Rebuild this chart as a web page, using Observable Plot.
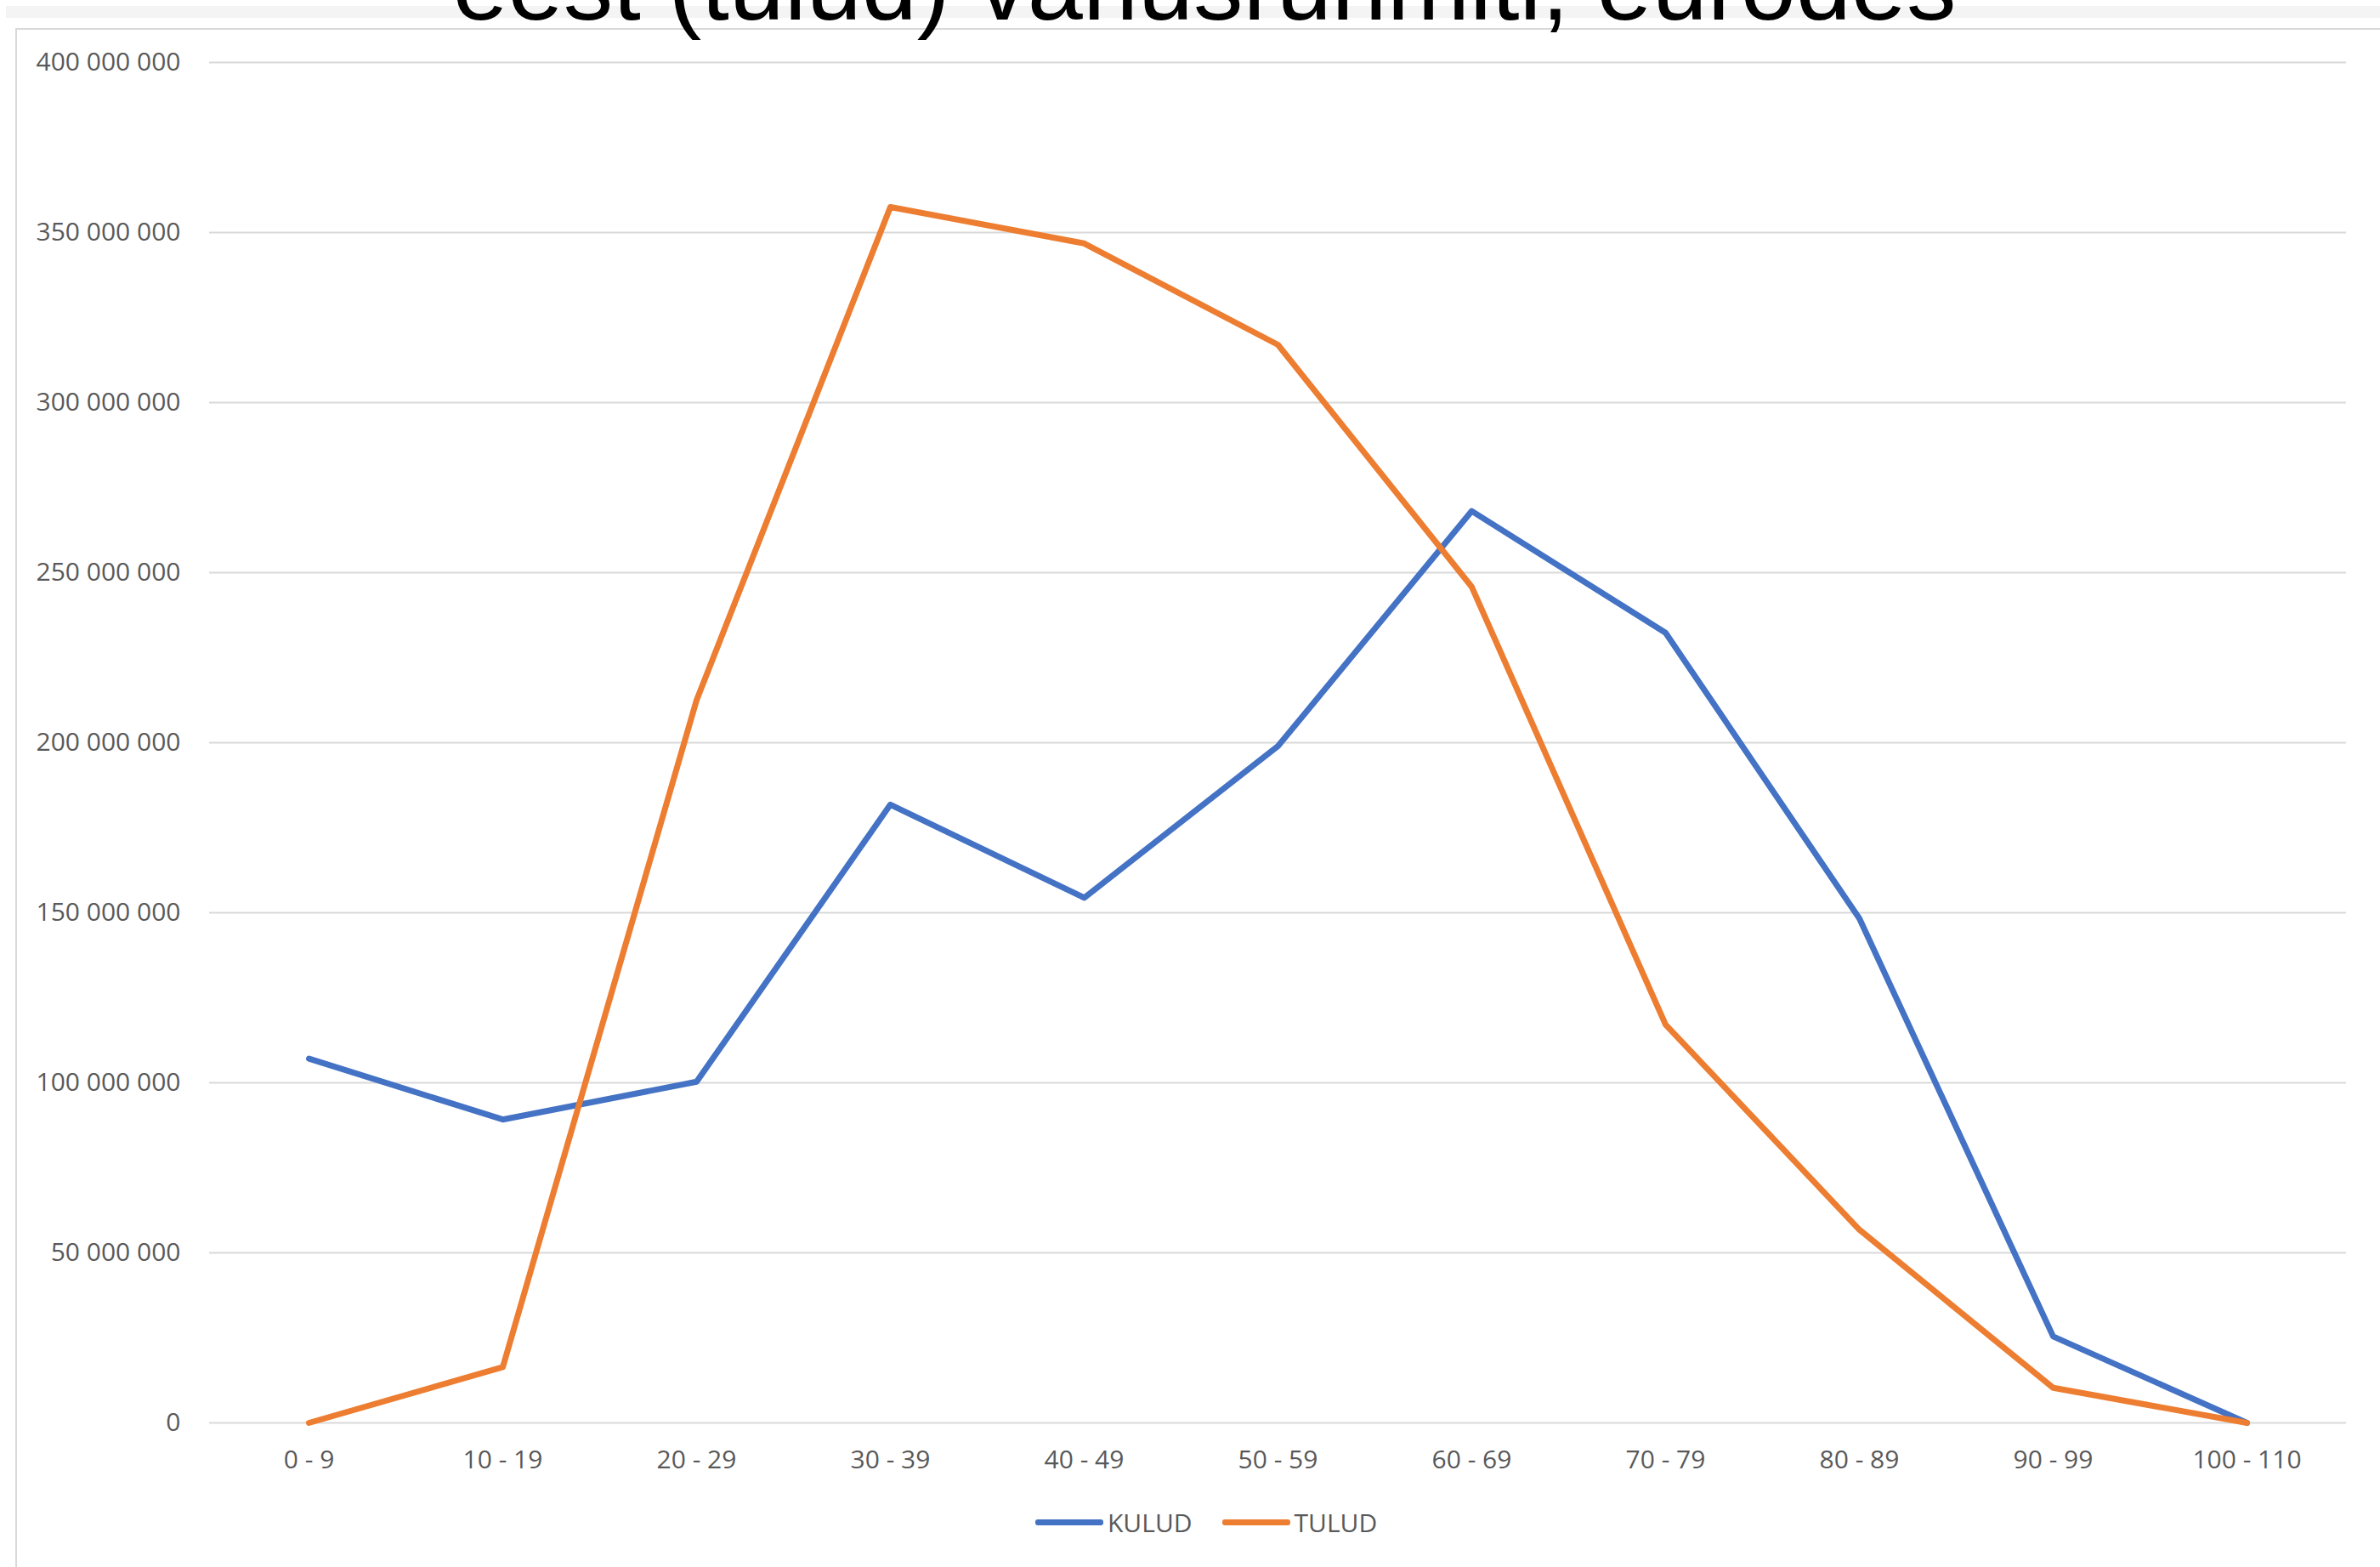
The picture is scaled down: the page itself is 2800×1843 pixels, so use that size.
<!DOCTYPE html>
<html>
<head>
<meta charset="utf-8">
<script src="https://cdn.jsdelivr.net/npm/d3@7"></script>
<script src="https://cdn.jsdelivr.net/npm/@observablehq/plot@0.6"></script>
<style>
  html, body { margin: 0; padding: 0; background: #ffffff; }
  body { width: 2800px; height: 1843px; position: relative; overflow: hidden; font-family: "Open Sans", sans-serif; }
  #band { position: absolute; left: 7px; top: 7px; width: 2793px; height: 14px; background: #f4f4f4; }
  #frame { position: absolute; left: 18px; top: 33px; width: 2900px; height: 2000px; border-left: 2px solid #d9d9d9; border-top: 2px solid #d9d9d9; box-sizing: border-box; }
  #title { position: absolute; left: 0; top: -76px; width: 2834px; text-align: center; font-family: "Liberation Sans", Arial, sans-serif; font-size: 117px; line-height: 117px; color: #000; white-space: nowrap; }
  #chart { position: absolute; left: 0; top: 40px; }
  #legend { position: absolute; left: 1218px; top: 1770px; display: flex; align-items: center; font-family: "Open Sans", sans-serif; font-size: 30px; color: #595959; }
  .sw { display: inline-block; width: 80px; height: 7px; border-radius: 3px; margin-right: 5px; }
  .item { display: flex; align-items: center; margin-right: 35px; }
</style>
</head>
<body>
<div id="band"></div>
<div id="frame"></div>
<div id="title">eest (tulud) vanusrühmiti, eurodes</div>
<div id="chart"></div>
<div id="legend"></div>
<script>
// ---- data ----
const ageGroups = ["0 - 9", "10 - 19", "20 - 29", "30 - 39", "40 - 49", "50 - 59", "60 - 69", "70 - 79", "80 - 89", "90 - 99", "100 - 110"];
const kulud = [107.1e6, 89.2e6, 100.3e6, 181.8e6, 154.4e6, 199.0e6, 268.1e6, 232.3e6, 148.3e6, 25.4e6, 0];
const tulud = [0, 16.4e6, 212.5e6, 357.5e6, 346.8e6, 317.0e6, 245.8e6, 117.1e6, 56.8e6, 10.3e6, 0];
const seriesNames = ["KULUD", "TULUD"];
const seriesColors = ["#4472C4", "#ED7D31"];
const yTicks = [0, 50e6, 100e6, 150e6, 200e6, 250e6, 300e6, 350e6, 400e6];

const rows = [];
ageGroups.forEach((g, i) => {
  rows.push({age: g, value: kulud[i], series: seriesNames[0]});
  rows.push({age: g, value: tulud[i], series: seriesNames[1]});
});

const fmt = v => d3.format(",")(v).replace(/,/g, " ");

const chart = Plot.plot({
  width: 2800,
  height: 1720,
  marginLeft: 246,
  marginRight: 40,
  marginTop: 33,
  marginBottom: 87,
  style: {fontFamily: "Open Sans, sans-serif", fontSize: "30px", color: "#595959", background: "transparent", overflow: "visible"},
  x: {type: "point", domain: ageGroups, padding: 0.5, label: null},
  y: {domain: [0, 400e6], label: null},
  color: {domain: seriesNames, range: seriesColors},
  marks: [
    Plot.ruleY(yTicks, {stroke: "#d9d9d9", strokeWidth: 2}),
    Plot.axisY(yTicks, {tickSize: 0, tickPadding: 34, tickFormat: fmt, fontSize: 30, label: null}),
    Plot.axisX({tickSize: 0, tickPadding: 32, fontSize: 30, label: null}),
    Plot.line(rows.filter(d => d.series === "KULUD"), {x: "age", y: "value", stroke: "series", strokeWidth: 7, strokeLinejoin: "round", strokeLinecap: "round"}),
    Plot.line(rows.filter(d => d.series === "TULUD"), {x: "age", y: "value", stroke: "series", strokeWidth: 7, strokeLinejoin: "round", strokeLinecap: "round"})
  ]
});
document.getElementById("chart").appendChild(chart);

const legend = document.getElementById("legend");
seriesNames.forEach((name, i) => {
  const item = document.createElement("div");
  item.className = "item";
  const sw = document.createElement("span");
  sw.className = "sw";
  sw.style.background = seriesColors[i];
  const label = document.createElement("span");
  label.textContent = name;
  item.appendChild(sw);
  item.appendChild(label);
  legend.appendChild(item);
});
</script>
</body>
</html>
